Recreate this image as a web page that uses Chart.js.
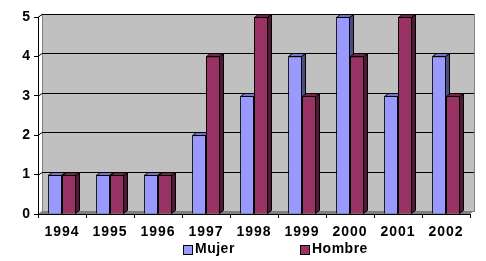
<!DOCTYPE html>
<html>
<head>
<meta charset="utf-8">
<script src="https://cdn.jsdelivr.net/npm/chart.js@4"></script>
<style>
  html, body { margin: 0; padding: 0; background: #fff; }
  #wrap { width: 486px; height: 261px; }
</style>
</head>
<body>
<div id="wrap"><canvas id="chart" width="486" height="261"></canvas></div>
<script>
const years = ['1994', '1995', '1996', '1997', '1998', '1999', '2000', '2001', '2002'];
const mujer = [1, 1, 1, 2, 3, 4, 5, 3, 4];
const hombre = [1, 1, 1, 4, 5, 3, 4, 5, 3];
const yTicks = [0, 1, 2, 3, 4, 5];

// fake 3D depth, like the old excel charts
const DX = 4, DY = 3;
const FONT = 'bold 14px "Liberation Sans", Arial, sans-serif';

const faces = [
  { front: '#9999FF', top: '#7373BF', side: '#4D4D80' },
  { front: '#993366', top: '#73264D', side: '#4D1A33' }
];

function poly(ctx, pts, fill) {
  ctx.beginPath();
  ctx.moveTo(pts[0][0], pts[0][1]);
  for (let i = 1; i < pts.length; i++) ctx.lineTo(pts[i][0], pts[i][1]);
  ctx.closePath();
  ctx.fillStyle = fill;
  ctx.fill();
  ctx.stroke();
}

const wallPlugin = {
  id: 'wall',
  beforeDraw(chart) {
    const ctx = chart.ctx;
    const a = chart.chartArea;
    const y = chart.scales.y;
    ctx.save();
    // back wall
    ctx.fillStyle = '#C0C0C0';
    ctx.fillRect(a.left + DX, a.top - DY, a.right - a.left, a.bottom - a.top);
    ctx.strokeStyle = '#808080';
    ctx.lineWidth = 1;
    ctx.strokeRect(a.left + DX + 0.5, a.top - DY + 0.5, a.right - a.left, a.bottom - a.top);
    // floor
    ctx.fillStyle = '#808080';
    ctx.beginPath();
    ctx.moveTo(a.left, a.bottom);
    ctx.lineTo(a.left + DX, a.bottom - DY);
    ctx.lineTo(a.right + DX, a.bottom - DY);
    ctx.lineTo(a.right, a.bottom);
    ctx.closePath();
    ctx.fill();
    // left side wall edge
    ctx.strokeStyle = '#808080';
    ctx.beginPath();
    ctx.moveTo(a.left + 0.5, a.top);
    ctx.lineTo(a.left + DX + 0.5, a.top - DY);
    ctx.stroke();
    // gridlines on the wall
    ctx.strokeStyle = '#000';
    yTicks.forEach(v => {
      if (v === 0) return;
      const py = Math.round(y.getPixelForValue(v)) + 0.5;
      ctx.beginPath();
      ctx.moveTo(a.left, py);
      ctx.lineTo(a.left + DX, py - DY);
      ctx.lineTo(a.right + DX, py - DY);
      ctx.stroke();
    });
    ctx.restore();
    ctx.letterSpacing = '1px';
  },
  afterDatasetsDraw(chart) {
    const ctx = chart.ctx;
    ctx.save();
    ctx.strokeStyle = '#000';
    ctx.lineWidth = 1;
    chart.data.datasets.forEach((ds, di) => {
      const meta = chart.getDatasetMeta(di);
      const c = faces[di];
      meta.data.forEach(bar => {
        if (di > 0) bar.draw(ctx);
        const p = bar.getProps(['x', 'y', 'base', 'width'], true);
        const x1 = Math.round(p.x - p.width / 2) + 0.5;
        const x2 = Math.round(p.x + p.width / 2) - 0.5;
        const yt = Math.round(p.y) + 0.5;
        const yb = Math.round(p.base) - 0.5;
        poly(ctx, [[x2, yt], [x2 + DX, yt - DY], [x2 + DX, yb - DY], [x2, yb]], c.side);
        poly(ctx, [[x1, yt], [x1 + DX, yt - DY], [x2 + DX, yt - DY], [x2, yt]], c.top);
      });
    });
    ctx.restore();
  },
  afterDraw(chart) {
    // legend, drawn by hand to sit where excel put it
    const ctx = chart.ctx;
    ctx.save();
    ctx.font = FONT;
    ctx.letterSpacing = '0.5px';
    ctx.textBaseline = 'alphabetic';
    const items = [
      { label: 'Mujer', x: 183 },
      { label: 'Hombre', x: 300 }
    ];
    items.forEach((it, i) => {
      ctx.fillStyle = faces[i].front;
      ctx.fillRect(it.x, 245, 9, 9);
      ctx.strokeStyle = '#000';
      ctx.strokeRect(it.x + 0.5, 245.5, 9, 9);
      ctx.fillStyle = '#000';
      ctx.fillText(it.label, it.x + 12, 253);
    });
    ctx.restore();
  }
};

new Chart(document.getElementById('chart'), {
  type: 'bar',
  data: {
    labels: years,
    datasets: [{
      label: 'Mujer',
      data: mujer,
      backgroundColor: faces[0].front,
      borderColor: '#000',
      borderWidth: 1,
      categoryPercentage: 0.58,
      barPercentage: 1
    }, {
      label: 'Hombre',
      data: hombre,
      backgroundColor: faces[1].front,
      borderColor: '#000',
      borderWidth: 1,
      categoryPercentage: 0.58,
      barPercentage: 1
    }]
  },
  options: {
    responsive: false,
    animation: false,
    layout: {
      padding: { left: 22, right: 16, top: 17, bottom: 0 }
    },
    scales: {
      x: {
        offset: true,
        grid: { drawOnChartArea: false, tickLength: 4, color: '#000', offset: true },
        border: { color: '#000' },
        ticks: { color: '#000', font: { family: '"Liberation Sans", Arial, sans-serif', size: 14, weight: 'bold' }, padding: 6, maxRotation: 0 },
        afterFit(scale) { scale.height = 47; }
      },
      y: {
        min: 0,
        max: 5,
        ticks: { stepSize: 1, color: '#000', font: { family: '"Liberation Sans", Arial, sans-serif', size: 14, weight: 'bold' }, padding: 3 },
        grid: { drawOnChartArea: false, tickLength: 4, color: '#000' },
        border: { color: '#000' },
        afterFit(scale) { scale.width = 16; }
      }
    },
    plugins: {
      legend: { display: false },
      tooltip: { enabled: false }
    }
  },
  plugins: [wallPlugin]
});
</script>
</body>
</html>
